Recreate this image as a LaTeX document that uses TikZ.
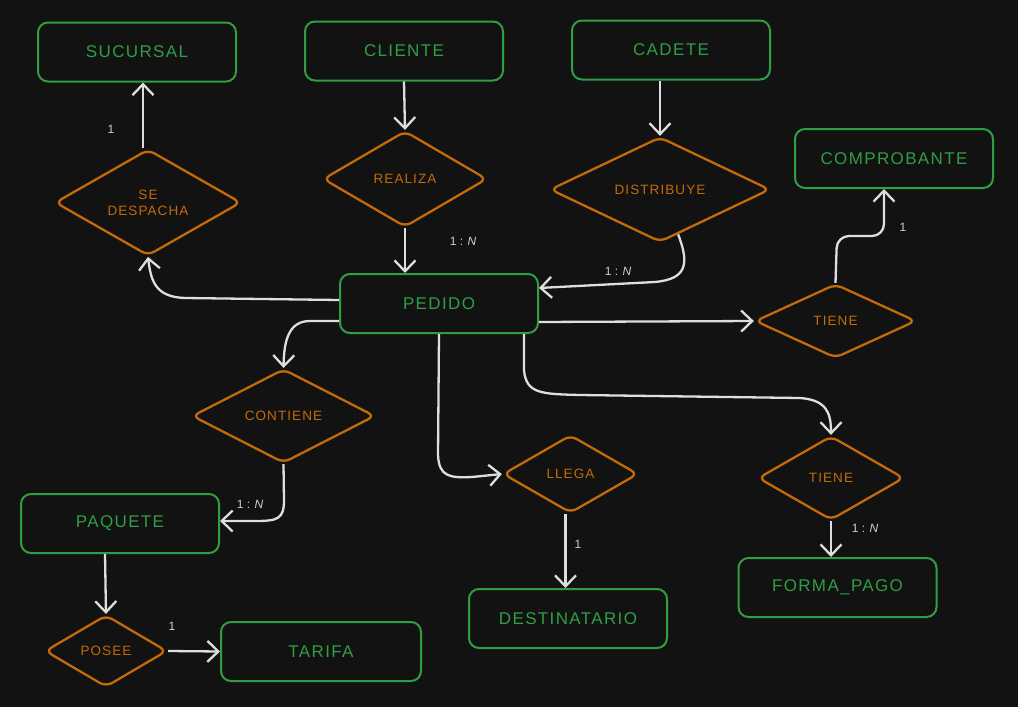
\documentclass[tikz,border=0pt]{standalone}
\usepackage{fontspec}
\setmainfont{Liberation Sans}
\newfontfamily\handfont[LetterSpace=8]{Liberation Sans}
\usetikzlibrary{shapes.geometric,arrows.meta}
\definecolor{bg}{HTML}{121212}
\definecolor{egreen}{HTML}{2F9E44}
\definecolor{eorange}{HTML}{C46A08}
\definecolor{ewhite}{HTML}{DEDEDE}
\definecolor{egray}{HTML}{CFCFCF}
\tikzset{
  ent/.style={draw=egreen, line width=2pt, rounded corners=10pt, minimum width=198pt, minimum height=59pt, text=egreen, font=\handfont\fontsize{17}{20}\selectfont},
  rel/.style={draw=eorange, line width=2.3pt, shape=diamond, rounded corners=7pt, inner sep=0pt, text=eorange, font=\handfont\fontsize{13.5}{16}\selectfont, align=center},
  con/.style={draw=ewhite, line width=2.3pt, -{Straight Barb[length=11pt,width=21pt,line width=2.3pt]}},
  card/.style={text=egray, font=\fontsize{12}{14}\selectfont}
}
\begin{document}
\begin{tikzpicture}[x=1pt,y=-1pt]
\fill[bg] (0,0) rectangle (1018,707);
\useasboundingbox (0,0) rectangle (1018,707);
% entities
\node[ent] (suc) at (137,52) {SUCURSAL};
\node[ent] (cli) at (404,51) {CLIENTE};
\node[ent] (cad) at (671,50) {CADETE};
\node[ent] (comp) at (894,158.5) {COMPROBANTE};
\node[ent] (ped) at (439,303.5) {PEDIDO};
\node[ent] (paq) at (120,523.5) {PAQUETE};
\node[ent, minimum width=200pt] (tar) at (321,651.5) {TARIFA};
\node[ent] (dest) at (568,618.5) {DESTINATARIO};
\node[ent] (fp) at (837.5,587.5) {FORMA\_PAGO};
% relations
\node[rel, minimum width=186pt, minimum height=95pt] (sed) at (148,202.5) {SE\\DESPACHA};
\node[rel, minimum width=164pt, minimum height=96pt] (real) at (405,179) {REALIZA};
\node[rel, minimum width=220pt, minimum height=105pt] (dist) at (660,189.5) {DISTRIBUYE};
\node[rel, minimum width=161pt, minimum height=74pt] (tie1) at (835.5,321) {TIENE};
\node[rel, minimum width=183pt, minimum height=94pt] (cont) at (283.5,416) {CONTIENE};
\node[rel, minimum width=135pt, minimum height=78pt] (lleg) at (570.5,474) {LLEGA};
\node[rel, minimum width=146pt, minimum height=84pt] (tie2) at (831,478) {TIENE};
\node[rel, minimum width=122pt, minimum height=72pt] (pos) at (106,651) {POSEE};
% connectors
\draw[con] ([xshift=-5pt]sed.north) -- ([xshift=-5pt]sed.north |- suc.south);
\draw[con] (cli.south) -- (real.north);
\draw[con] (real.south) -- (real.south |- ped.north);
\draw[con] (dist.north |- cad.south) -- (dist.north);
\draw[con] (dist.-68) .. controls (690,265) and (686,279) .. (655,282) -- (ped.east |- 0,288);
\draw[con] (ped.west |- 0,300) -- (185,298) .. controls (156,297) and (151,282) .. (sed.south);
\draw[con] (ped.west |- 0,321) -- (310,321) .. controls (289,321) and (284,340) .. (cont.north);
\draw[con] (ped.east |- 0,322) -- (tie1.west);
\draw[con, rounded corners=12pt] (tie1.north) -- (837,236) -- (884,236) -- (comp.south -| 884,0);
\draw[con] (ped.south) -- (438,455) .. controls (439,477) and (450,478) .. (472,477) -- (lleg.west);
\draw[con] (ped.south -| 524,0) -- (524,370) .. controls (526,394) and (542,394) .. (580,395) -- (800,398) .. controls (826,400) and (831,412) .. (tie2.north);
\draw[con] ([xshift=-5pt]lleg.south) -- ([xshift=-5pt]lleg.south |- dest.north);
\draw[con] (tie2.south) -- (tie2.south |- fp.north);
\draw[con] (cont.south) -- (284,500) .. controls (284,519) and (278,521) .. (255,521) -- (paq.east |- 0,521);
\draw[con] (paq.south -| 105,0) -- (pos.north);
\draw[con] (pos.east) -- (tar.west);
% cardinalities
\node[card] (c1) at (111,129) {1};
\node[card] (c2) at (463,241) {1 : \textit{N}};
\node[card] (c3) at (618,271) {1 : \textit{N}};
\node[card] (c4) at (903,227) {1};
\node[card] (c5) at (578,544) {1};
\node[card] (c6) at (865,528) {1 : \textit{N}};
\node[card] (c7) at (250,504) {1 : \textit{N}};
\node[card] (c8) at (172,626) {1};
\end{tikzpicture}
\end{document}
